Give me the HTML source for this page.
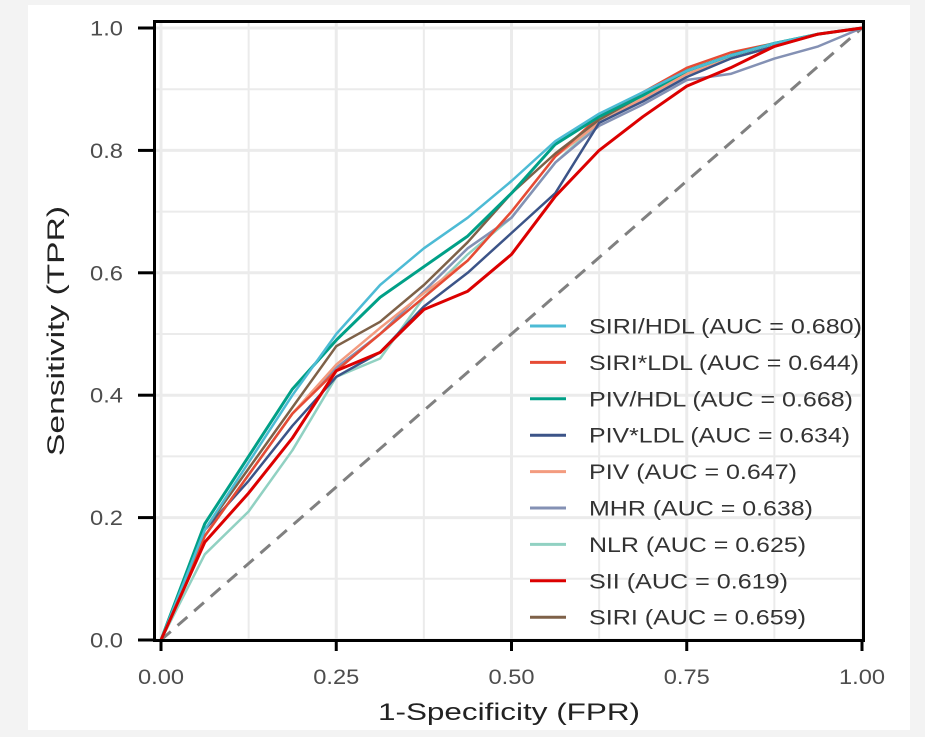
<!DOCTYPE html>
<html><head><meta charset="utf-8"><style>
html,body{margin:0;padding:0;background:#f3f3f3;width:925px;height:737px;overflow:hidden}
#card{position:absolute;left:28px;top:5px;width:882px;height:725px;background:#fff}
svg{position:absolute;left:0;top:0}
text{font-family:"Liberation Sans",sans-serif}
</style></head><body>
<div id="card"></div>
<svg id="chart" width="925" height="737"></svg>
<script>
const xs=[0,.0625,.125,.1875,.25,.3125,.375,.4375,.5,.5625,.625,.6875,.75,.8125,.875,.9375,1];
const seriesNames=["SIRI/HDL (AUC = 0.680)","SIRI*LDL (AUC = 0.644)","PIV/HDL (AUC = 0.668)","PIV*LDL (AUC = 0.634)","PIV (AUC = 0.647)","MHR (AUC = 0.638)","NLR (AUC = 0.625)","SII (AUC = 0.619)","SIRI (AUC = 0.659)"];
const colors=["#4DBBD5","#E64B35","#00A087","#3C5488","#F39B7F","#8491B4","#91D1C2","#DC0000","#7E6148"];
const siriHdl=[0,.18,.29,.40,.50,.58,.64,.69,.75,.815,.86,.895,.93,.955,.975,.99,1];
const siriLdl=[0,.17,.27,.37,.44,.50,.56,.62,.70,.79,.855,.895,.935,.96,.975,.99,1];
const pivHdl=[0,.19,.30,.41,.49,.56,.61,.66,.73,.81,.855,.89,.93,.955,.975,.99,1];
const pivLdl=[0,.18,.26,.35,.43,.47,.545,.60,.665,.73,.845,.88,.92,.95,.97,.99,1];
const piv=[0,.17,.27,.37,.45,.51,.567,.62,.70,.79,.845,.885,.925,.95,.97,.99,1];
const mhr=[0,.17,.27,.37,.445,.50,.57,.64,.69,.78,.84,.875,.915,.925,.95,.97,1];
const nlr=[0,.14,.21,.31,.43,.46,.56,.63,.69,.78,.845,.885,.925,.95,.97,.99,1];
const sii=[0,.16,.24,.33,.44,.47,.54,.57,.63,.725,.80,.855,.905,.935,.97,.99,1];
const siri=[0,.18,.28,.38,.48,.52,.58,.65,.73,.795,.85,.89,.93,.955,.975,.99,1];
const allSeries=[siriHdl,siriLdl,pivHdl,pivLdl,piv,mhr,nlr,sii,siri];
const xTicks=[0,.25,.5,.75,1], xTickLabels=["0.00","0.25","0.50","0.75","1.00"];
const yTicks=[0,.2,.4,.6,.8,1], yTickLabels=["0.0","0.2","0.4","0.6","0.8","1.0"];
const legendWidths=[273,270,264,261,208,224,217,199,217];
const X=v=>161+701*v, Y=v=>640-612*v;
const svg=document.getElementById('chart'),NS="http://www.w3.org/2000/svg";
function mk(t,a,p){const e=document.createElementNS(NS,t);for(const k in a)e.setAttribute(k,a[k]);(p||svg).appendChild(e);return e;}
for(let i=0;i<=8;i++){const v=i/8;const g=mk('line',{x1:X(v),x2:X(v),y1:21,y2:641,stroke:'#ebebeb','stroke-width':i%2?2:3});
}
for(let i=0;i<=10;i++){const v=i/10;const g=mk('line',{x1:154,x2:864,y1:Y(v),y2:Y(v),stroke:'#ebebeb','stroke-width':i%2?2:3});
}
const d=mk('line',{x1:X(0),y1:Y(0),x2:X(1),y2:Y(1),stroke:'#808080','stroke-width':3,'stroke-dasharray':'13 9'});

const order=[6,5,4,3,1,8,2,0,7];
order.forEach(i=>{const s=allSeries[i];let p='';s.forEach((v,j)=>{p+=(j?'L':'M')+X(xs[j]).toFixed(1)+','+Y(v).toFixed(1);});
const e=mk('path',{d:p,fill:'none',stroke:colors[i],'stroke-width':(i==7||i==2)?3:2.5,'stroke-linejoin':'round'});

});
const b=mk('rect',{x:154.5,y:21.5,width:709,height:619,fill:'none',stroke:'#000','stroke-width':3});

xTicks.forEach((v,i)=>{const t=mk('line',{x1:X(v),x2:X(v),y1:641,y2:651,stroke:'#000','stroke-width':3});

const l=mk('text',{x:X(v)-23,y:684,'font-size':21,fill:'#4d4d4d',textLength:46,lengthAdjust:'spacingAndGlyphs'});l.textContent=xTickLabels[i];
});
yTicks.forEach((v,i)=>{const t=mk('line',{x1:138,x2:154,y1:Y(v),y2:Y(v),stroke:'#000','stroke-width':3});

const l=mk('text',{x:90,y:Y(v)+7.5,'font-size':21,fill:'#4d4d4d',textLength:33,lengthAdjust:'spacingAndGlyphs'});l.textContent=yTickLabels[i];
});
const xt=mk('text',{x:378,y:720,'font-size':24,fill:'#222',textLength:262,lengthAdjust:'spacingAndGlyphs'});xt.textContent='1-Specificity (FPR)';

const yt=mk('text',{x:0,y:0,'font-size':24,fill:'#222',textLength:250,lengthAdjust:'spacingAndGlyphs',transform:'translate(64,456) rotate(-90)'});yt.textContent='Sensitivity (TPR)';

seriesNames.forEach((n,i)=>{const y=326+i*36.4;
const ln=mk('line',{x1:530,x2:566,y1:y,y2:y,stroke:colors[i],'stroke-width':3});

const t=mk('text',{x:589,y:y+7.5,'font-size':21,fill:'#333',textLength:legendWidths[i],lengthAdjust:'spacingAndGlyphs'});t.textContent=n;
});
</script>
</body></html>
